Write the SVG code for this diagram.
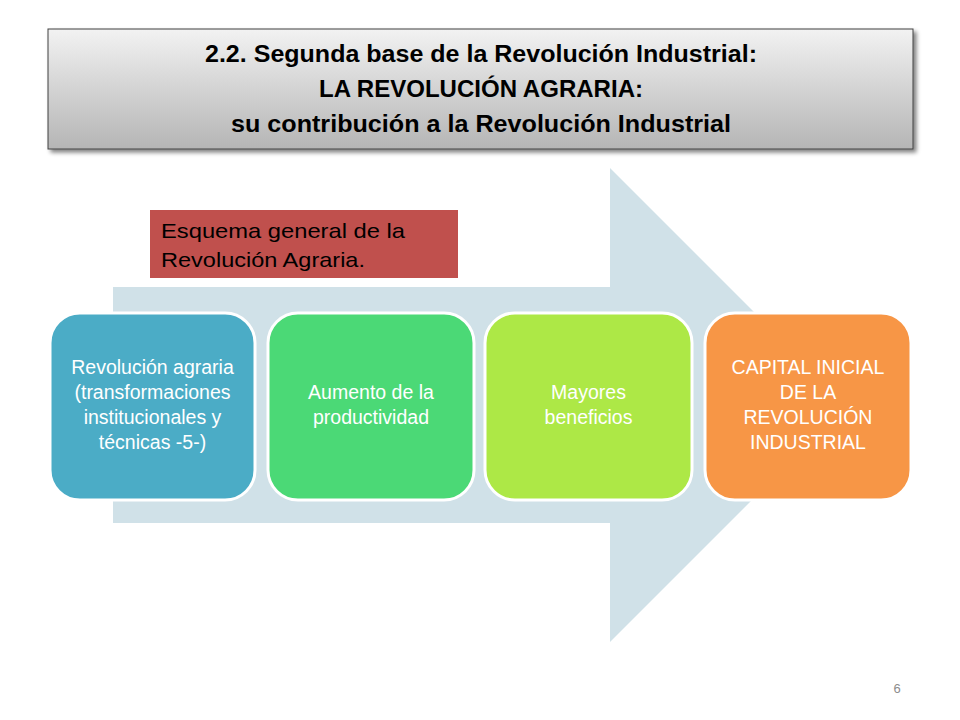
<svg xmlns="http://www.w3.org/2000/svg" width="960" height="720" viewBox="0 0 960 720">
<defs>
<linearGradient id="tg" x1="0" y1="0" x2="0" y2="1">
<stop offset="0" stop-color="#F2F2F2"/>
<stop offset="1" stop-color="#B5B5B5"/>
</linearGradient>
<filter id="sh" x="-5%" y="-10%" width="115%" height="130%">
<feGaussianBlur in="SourceAlpha" stdDeviation="2"/>
<feOffset dx="3" dy="3" result="b"/>
<feComponentTransfer><feFuncA type="linear" slope="0.5"/></feComponentTransfer>
<feMerge><feMergeNode/><feMergeNode in="SourceGraphic"/></feMerge>
</filter>
</defs>
<style>
.title{font-family:"Liberation Sans",Arial,sans-serif;font-weight:bold;font-size:23px;fill:#000;text-anchor:middle}
.node rect{stroke:#fff;stroke-width:3}
.node text{font-family:"Liberation Sans",Arial,sans-serif;font-size:19.5px;fill:#fff;text-anchor:middle}
.note{font-family:"Liberation Sans",Arial,sans-serif;font-size:21px;fill:#000}
</style>
<rect width="960" height="720" fill="#fff"/>
<g id="title">
<rect x="48" y="29" width="865" height="120" fill="url(#tg)" stroke="#404040" stroke-width="1" filter="url(#sh)"/>
<text class="title" x="481" y="62" textLength="552" lengthAdjust="spacingAndGlyphs">2.2. Segunda base de la Revolución Industrial:</text>
<text class="title" x="481" y="97" textLength="324" lengthAdjust="spacingAndGlyphs">LA REVOLUCIÓN AGRARIA:</text>
<text class="title" x="481" y="132" textLength="500" lengthAdjust="spacingAndGlyphs">su contribución a la Revolución Industrial</text>
</g>
<g id="connectors">
<polygon points="113,287 610,287 610,168 847,405 610,642 610,523 113,523" fill="#D0E1E8"/>
</g>
<g id="note">
<rect x="150" y="210" width="308" height="68" fill="#C0504D"/>
<text class="note" x="161" y="238" textLength="244" lengthAdjust="spacingAndGlyphs">Esquema general de la</text>
<text class="note" x="161" y="267" textLength="204" lengthAdjust="spacingAndGlyphs">Revolución Agraria.</text>
</g>
<g id="n1" class="node">
<rect x="50" y="313" width="205" height="187" rx="30" fill="#4BACC6"/>
<text x="152.5" y="374">Revolución agraria</text>
<text x="152.5" y="399">(transformaciones</text>
<text x="152.5" y="424">institucionales y</text>
<text x="152.5" y="449">técnicas -5-)</text>
</g>
<g id="n2" class="node">
<rect x="268" y="313" width="206" height="187" rx="30" fill="#4BD976"/>
<text x="371" y="399">Aumento de la</text>
<text x="371" y="424">productividad</text>
</g>
<g id="n3" class="node">
<rect x="485" y="313" width="207" height="187" rx="30" fill="#ADE846"/>
<text x="588.5" y="399">Mayores</text>
<text x="588.5" y="424">beneficios</text>
</g>
<g id="n4" class="node">
<rect x="705" y="313" width="206" height="187" rx="30" fill="#F79646"/>
<text x="808" y="374">CAPITAL INICIAL</text>
<text x="808" y="399">DE LA</text>
<text x="808" y="424">REVOLUCIÓN</text>
<text x="808" y="449">INDUSTRIAL</text>
</g>
<text x="897" y="693" font-family="Liberation Sans,Arial,sans-serif" font-size="13" fill="#8C8C8C" text-anchor="middle">6</text>
</svg>
